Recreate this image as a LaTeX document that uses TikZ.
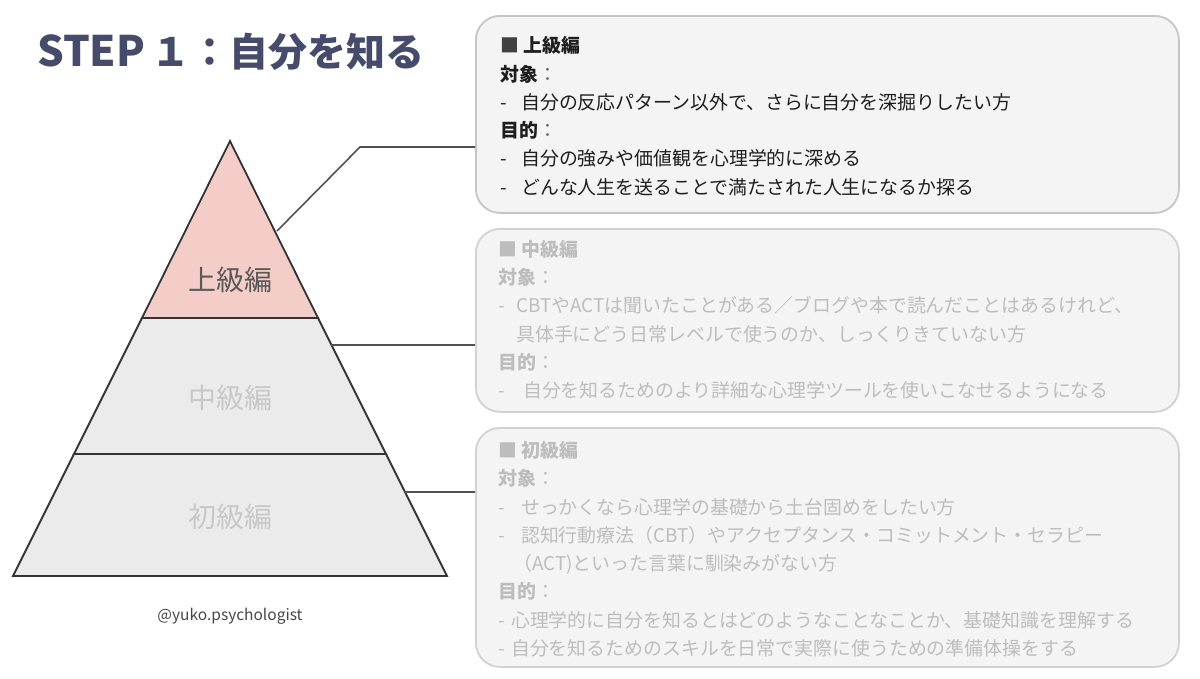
\documentclass[tikz,border=0pt]{standalone}
\usepackage{fontspec}
\newfontfamily\jp{Noto Sans CJK JP}
\definecolor{titlec}{HTML}{464B6B}
\definecolor{pinkf}{HTML}{F4CDC8}
\definecolor{grayf}{HTML}{EBEBEB}
\definecolor{edgec}{HTML}{333333}
\definecolor{boxf}{HTML}{F4F4F4}
\definecolor{boxd}{HTML}{C6C6C6}
\definecolor{boxdl}{HTML}{D2D2D2}
\definecolor{darktx}{HTML}{1E1E1E}
\definecolor{lighttx}{HTML}{BDBDBD}
\definecolor{lvl}{HTML}{C8C8C8}
\newcommand{\dl}[2]{\makebox[#1][l]{-}#2}
\newcommand{\mybf}[1]{{\bfseries #1}}
\begin{document}
\begin{tikzpicture}[x=1pt,y=-1pt,
  txt/.style={anchor=west, inner sep=0, yshift=-4.5pt, text height=0.88em, text depth=0.12em, font=\jp\fontsize{18.9}{20}\selectfont},
  dark/.style={txt, text=darktx},
  light/.style={txt, text=lighttx},
  box/.style={draw, line width=1.8pt, rounded corners=24pt, fill=boxf, inner sep=0, anchor=north west},
  conn/.style={draw=edgec!85, line width=1.6pt},
  lvlbl/.style={inner sep=0, font=\jp\fontsize{28}{30}\selectfont}
]
\fill[white] (0,0) rectangle (1200,678);
\useasboundingbox (0,0) rectangle (1200,678);

% title
\node[anchor=west, inner sep=0, text=titlec, font=\jp\bfseries\fontsize{39}{42}\selectfont] (title) at (37,52) {{\fontsize{42}{45}\selectfont STEP}\hspace{6pt}１：自分を知る};

% pyramid
\coordinate (apex) at (230,141);
\coordinate (l1) at (142,318); \coordinate (r1) at (318,318);
\coordinate (l2) at (74,454);  \coordinate (r2) at (386,454);
\coordinate (l3) at (13,576);  \coordinate (r3) at (447,576);
\filldraw[fill=grayf, draw=edgec, line width=1.8pt] (l2) -- (r2) -- (r3) -- (l3) -- cycle;
\filldraw[fill=grayf, draw=edgec, line width=1.8pt] (l1) -- (r1) -- (r2) -- (l2) -- cycle;
\filldraw[fill=pinkf, draw=edgec, line width=1.8pt, line join=miter] (apex) -- (r1) -- (l1) -- cycle;

\node[lvlbl, text=black!65] (lv1) at (230,280) {上級編};
\node[lvlbl, text=lvl] (lv2) at (230,398) {中級編};
\node[lvlbl, text=lvl] (lv3) at (230,517) {初級編};

\node[inner sep=0, text=black!72, font=\jp\fontsize{15.5}{17}\selectfont] (credit) at (230,616) {@yuko.psychologist};

% boxes
\node[box, draw=boxd, minimum width=703pt, minimum height=197pt] (b1) at (475,15) {};
\node[box, draw=boxdl, minimum width=703pt, minimum height=183pt] (b2) at (475,228) {};
\node[box, draw=boxdl, minimum width=703pt, minimum height=239pt] (b3) at (475,427) {};

% connectors
\coordinate (p1) at (277,231);
\coordinate (k1) at (360,147);
\coordinate (e1) at (b1.west |- k1);
\draw[conn] (p1) -- (k1) -- (e1);
\coordinate (p2) at (331,345);
\coordinate (e2) at (b2.west |- p2);
\draw[conn] (p2) -- (e2);
\coordinate (p3) at (404,492);
\coordinate (e3) at (b3.west |- p3);
\draw[conn] (p3) -- (e3);

% top box text
\node[dark, text=black!75] (t1) at (500,44) {\bfseries ■ \textcolor{darktx}{上級編}};
\node[dark] (t2) at (500,73) {\mybf{対象}\textcolor{black!60}{：}};
\node[dark] (t3) at (500,101) {\dl{21pt}{自分の反応パターン以外で、さらに自分を深掘りしたい方}};
\node[dark] (t4) at (500,129) {\mybf{目的}\textcolor{black!60}{：}};
\node[dark] (t5) at (500,157) {\dl{21pt}{自分の強みや価値観を心理学的に深める}};
\node[dark] (t6) at (500,186) {\dl{21pt}{どんな人生を送ることで満たされた人生になるか探る}};

% middle box text
\node[light] (m1) at (498,248) {\bfseries ■ 中級編};
\node[light] (m2) at (498,276) {\mybf{対象}：};
\node[light] (m3) at (498,304) {\dl{18pt}{CBTやACTは聞いたことがある／ブログや本で読んだことはあるけれど、}};
\node[light] (m4) at (516,333) {具体手にどう日常レベルで使うのか、しっくりきていない方};
\node[light] (m5) at (498,361) {\mybf{目的}：};
\node[light] (m6) at (498,389) {\dl{25pt}{自分を知るためのより詳細な心理学ツールを使いこなせるようになる}};

% bottom box text
\node[light] (s1) at (498,449) {\bfseries ■ 初級編};
\node[light] (s2) at (498,477) {\mybf{対象}：};
\node[light] (s3) at (498,506) {\dl{23pt}{せっかくなら心理学の基礎から土台固めをしたい方}};
\node[light] (s4) at (498,534) {\dl{23pt}{認知行動療法（CBT）やアクセプタンス・コミットメント・セラピー}};
\node[light] (s5) at (513,562) {（ACT)といった言葉に馴染みがない方};
\node[light] (s6) at (498,590) {\mybf{目的}：};
\node[light] (s7) at (498,619) {\dl{13pt}{心理学的に自分を知るとはどのようなことなことか、基礎知識を理解する}};
\node[light] (s8) at (498,647) {\dl{13pt}{自分を知るためのスキルを日常で実際に使うための準備体操をする}};
\end{tikzpicture}
\end{document}
